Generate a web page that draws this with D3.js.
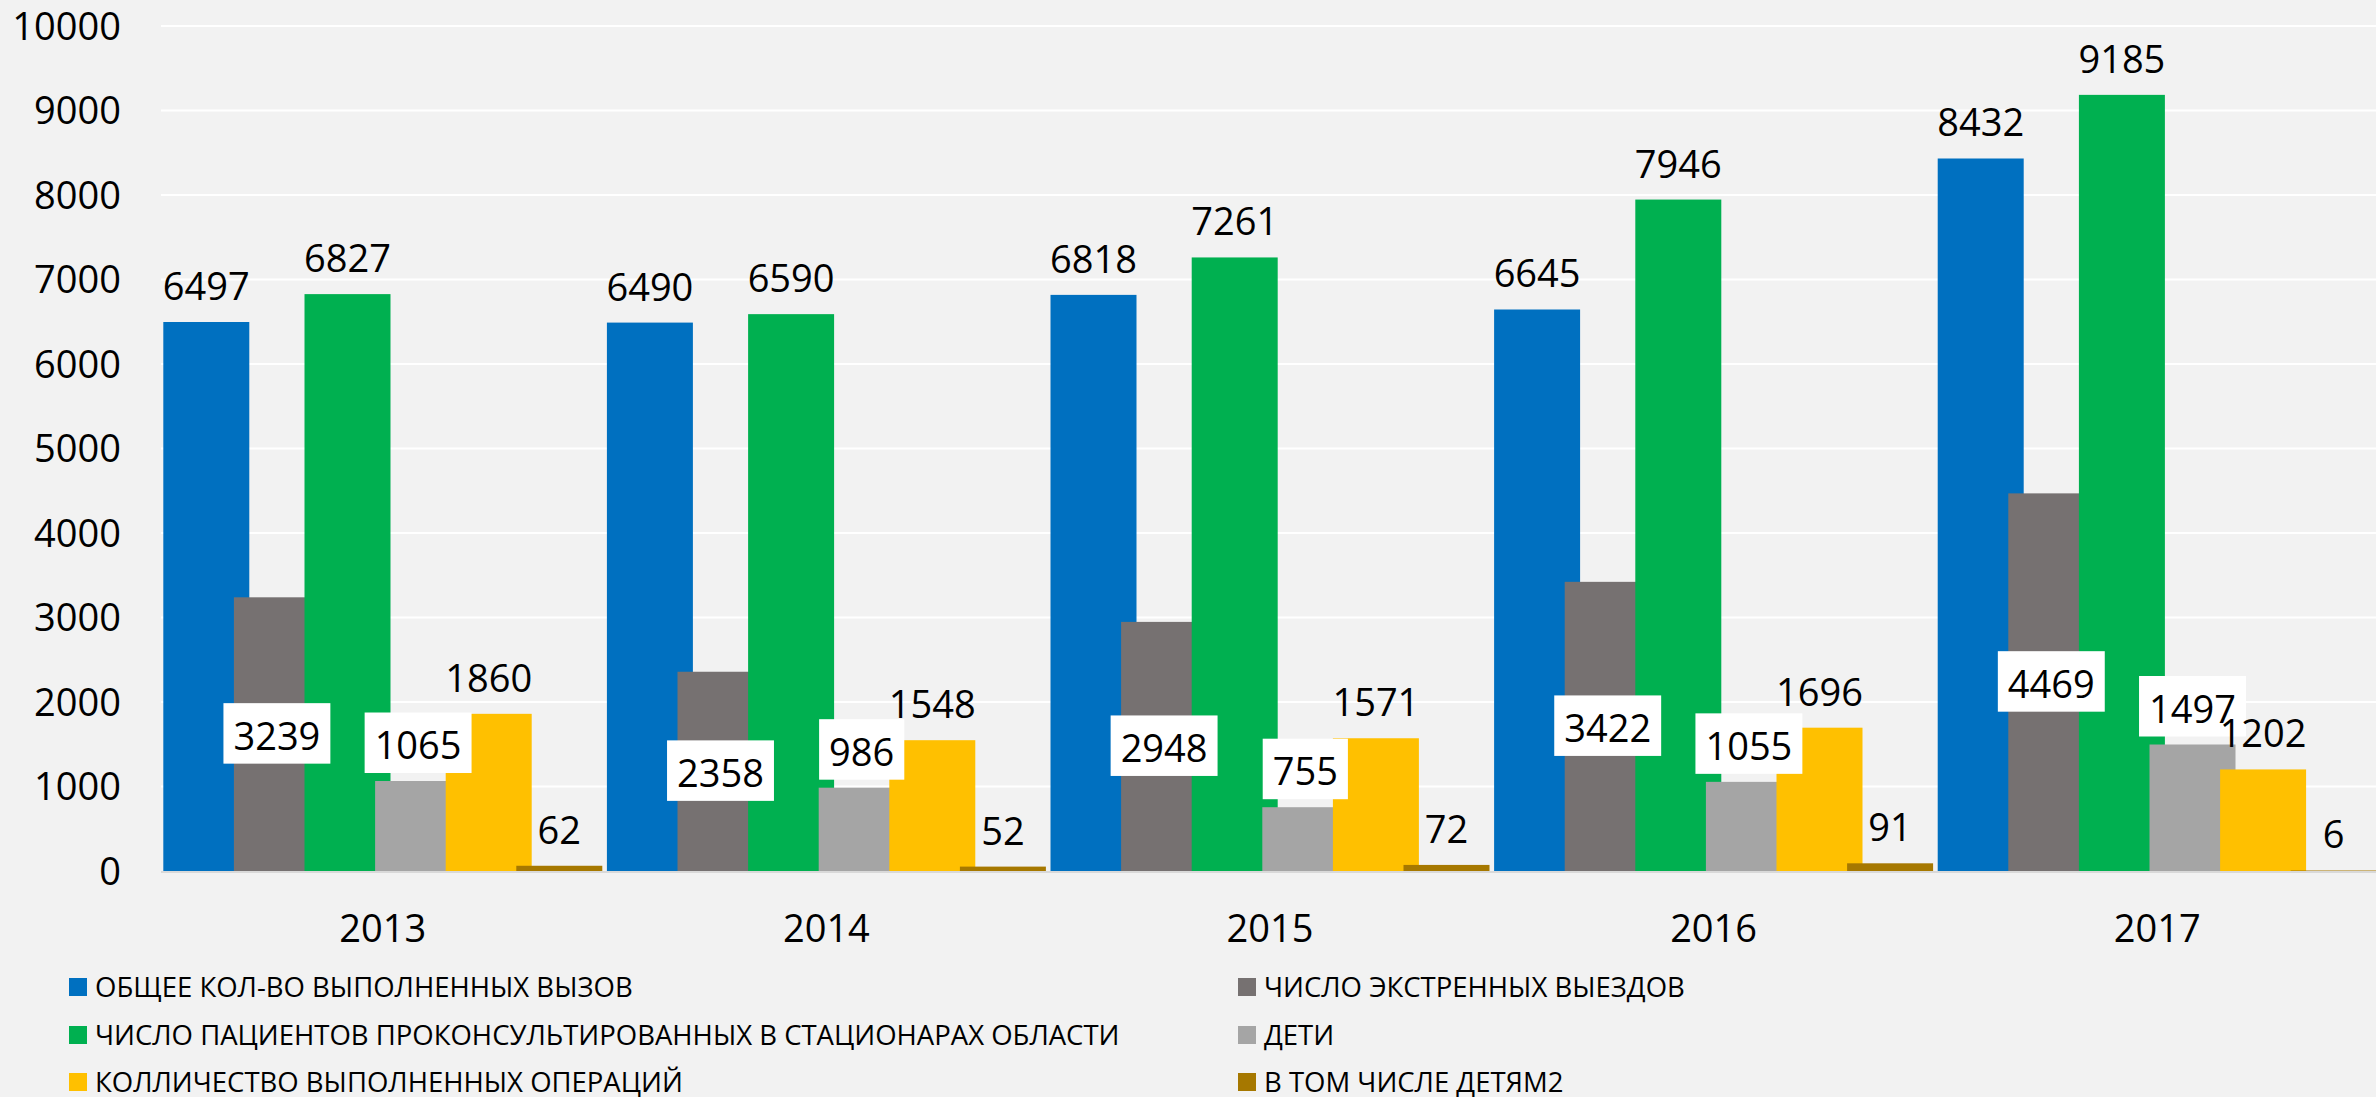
<!DOCTYPE html>
<html>
<head>
<meta charset="utf-8">
<script src="https://cdnjs.cloudflare.com/ajax/libs/d3/7.8.5/d3.min.js"></script>
<style>
  html, body { margin: 0; padding: 0; background: #f2f2f2; }
  svg { display: block; font-family: "Open Sans", "Noto Sans", sans-serif; }
</style>
</head>
<body>
<div id="my_dataviz"></div>
<script>
// chart data
var years = ["2013", "2014", "2015", "2016", "2017"];
var seriesNames = [
	"ОБЩЕЕ КОЛ-ВО ВЫПОЛНЕННЫХ ВЫЗОВ",
	"ЧИСЛО ЭКСТРЕННЫХ ВЫЕЗДОВ",
	"ЧИСЛО ПАЦИЕНТОВ ПРОКОНСУЛЬТИРОВАННЫХ В СТАЦИОНАРАХ ОБЛАСТИ",
	"ДЕТИ",
	"КОЛЛИЧЕСТВО ВЫПОЛНЕННЫХ ОПЕРАЦИЙ",
	"В ТОМ ЧИСЛЕ ДЕТЯМ2"
];
var totalCalls    = [6497, 6490, 6818, 6645, 8432];
var emergencyTrips = [3239, 2358, 2948, 3422, 4469];
var consulted     = [6827, 6590, 7261, 7946, 9185];
var children      = [1065, 986, 755, 1055, 1497];
var operations    = [1860, 1548, 1571, 1696, 1202];
var childrenOps   = [62, 52, 72, 91, 6];
var yTicks = [0, 1000, 2000, 3000, 4000, 5000, 6000, 7000, 8000, 9000, 10000];

var seriesValues = [totalCalls, emergencyTrips, consulted, children, operations, childrenOps];
var seriesColors = ["#0070c0", "#767171", "#00b050", "#a5a5a5", "#ffc000", "#a67800"];
// how each series shows its data labels
var labelModes = ["end", "centerBox", "end", "endBox", "end", "end"];

var width = 2376, height = 1097;
var margin = { top: 26, right: 0, bottom: 225, left: 161 };

var svg = d3.select("#my_dataviz")
	.append("svg")
		.attr("width", width)
		.attr("height", height);

svg.append("rect")
	.attr("width", width)
	.attr("height", height)
	.attr("fill", "#f2f2f2");

// scales
var y = d3.scaleLinear()
	.domain([0, 10000])
	.range([height - margin.bottom - 1, margin.top]);

var x0 = d3.scaleBand()
	.domain(years)
	.range([margin.left, margin.left + 5 * 443.6])
	.paddingInner(0.0104)
	.paddingOuter(0.0052);

// bars overlap each other a little (Excel overlap)
var barW = x0.bandwidth() / (1 + 5 * 0.821);
var x1 = d3.scalePoint()
	.domain(d3.range(seriesNames.length))
	.range([0, x0.bandwidth() - barW]);

// gridlines
svg.append("g")
	.selectAll("line")
	.data(yTicks.filter(function(d) { return d > 0; }))
	.enter()
	.append("line")
		.attr("x1", margin.left)
		.attr("x2", width)
		.attr("y1", function(d) { return y(d); })
		.attr("y2", function(d) { return y(d); })
		.attr("stroke", "#ffffff")
		.attr("stroke-width", 2);

// y tick labels
svg.append("g")
	.selectAll("text")
	.data(yTicks)
	.enter()
	.append("text")
		.attr("x", 121)
		.attr("y", function(d) { return y(d) + 13.5; })
		.attr("text-anchor", "end")
		.attr("font-size", 38)
		.attr("fill", "#000")
		.text(function(d) { return d; });

// flatten to one row per bar
var bars = [];
seriesValues.forEach(function(vals, s) {
	vals.forEach(function(v, i) {
		bars.push({ s: s, year: years[i], value: v });
	});
});

// bars, later series drawn on top
svg.append("g")
	.selectAll("rect")
	.data(bars)
	.enter()
	.append("rect")
		.attr("x", function(d) { return x0(d.year) + x1(d.s); })
		.attr("y", function(d) { return y(d.value); })
		.attr("width", barW)
		.attr("height", function(d) { return y(0) - y(d.value); })
		.attr("fill", function(d) { return seriesColors[d.s]; });

// x axis line
svg.append("line")
	.attr("x1", margin.left)
	.attr("x2", width)
	.attr("y1", y(0) + 1)
	.attr("y2", y(0) + 1)
	.attr("stroke", "#d9d9d9")
	.attr("stroke-width", 2);

// year labels
svg.append("g")
	.selectAll("text")
	.data(years)
	.enter()
	.append("text")
		.attr("x", function(d) { return x0(d) + x0.bandwidth() / 2; })
		.attr("y", 942)
		.attr("text-anchor", "middle")
		.attr("font-size", 38)
		.attr("fill", "#000")
		.text(function(d) { return d; });

// data labels
function labelBaseline(d) {
	var mode = labelModes[d.s];
	if (mode == "centerBox")
		return (y(0) + y(d.value)) / 2 + 15.5;
	return y(d.value) - 22;
}

var labels = svg.append("g")
	.selectAll("g")
	.data(bars)
	.enter()
	.append("g");

labels.each(function(d) {
	var g = d3.select(this);
	var cx = x0(d.year) + x1(d.s) + barW / 2;
	var by = labelBaseline(d);
	var box = g.append("rect").attr("fill", "#ffffff");
	var t = g.append("text")
		.attr("x", cx)
		.attr("y", by)
		.attr("text-anchor", "middle")
		.attr("font-size", 38)
		.attr("fill", "#000")
		.text(d.value);
	if (labelModes[d.s].indexOf("Box") >= 0) {
		var tw = t.node().getComputedTextLength();
		box.attr("x", cx - tw / 2 - 10)
			.attr("y", by - 46.5)
			.attr("width", tw + 20)
			.attr("height", 60.5);
	} else {
		box.remove();
	}
});

// legend, two columns
var legendX = [69, 1238];
var legendY = [987, 1035, 1082];
var legend = svg.append("g")
	.selectAll("g")
	.data(seriesNames)
	.enter()
	.append("g")
		.attr("transform", function(d, i) {
			return "translate(" + legendX[i % 2] + "," + legendY[Math.floor(i / 2)] + ")";
		});

legend.append("rect")
	.attr("x", 0)
	.attr("y", -9)
	.attr("width", 18)
	.attr("height", 18)
	.attr("fill", function(d, i) { return seriesColors[i]; });

legend.append("text")
	.attr("x", 26)
	.attr("y", 9.5)
	.attr("font-size", 27.5)
	.attr("fill", "#000")
	.text(function(d) { return d; });
</script>
</body>
</html>
